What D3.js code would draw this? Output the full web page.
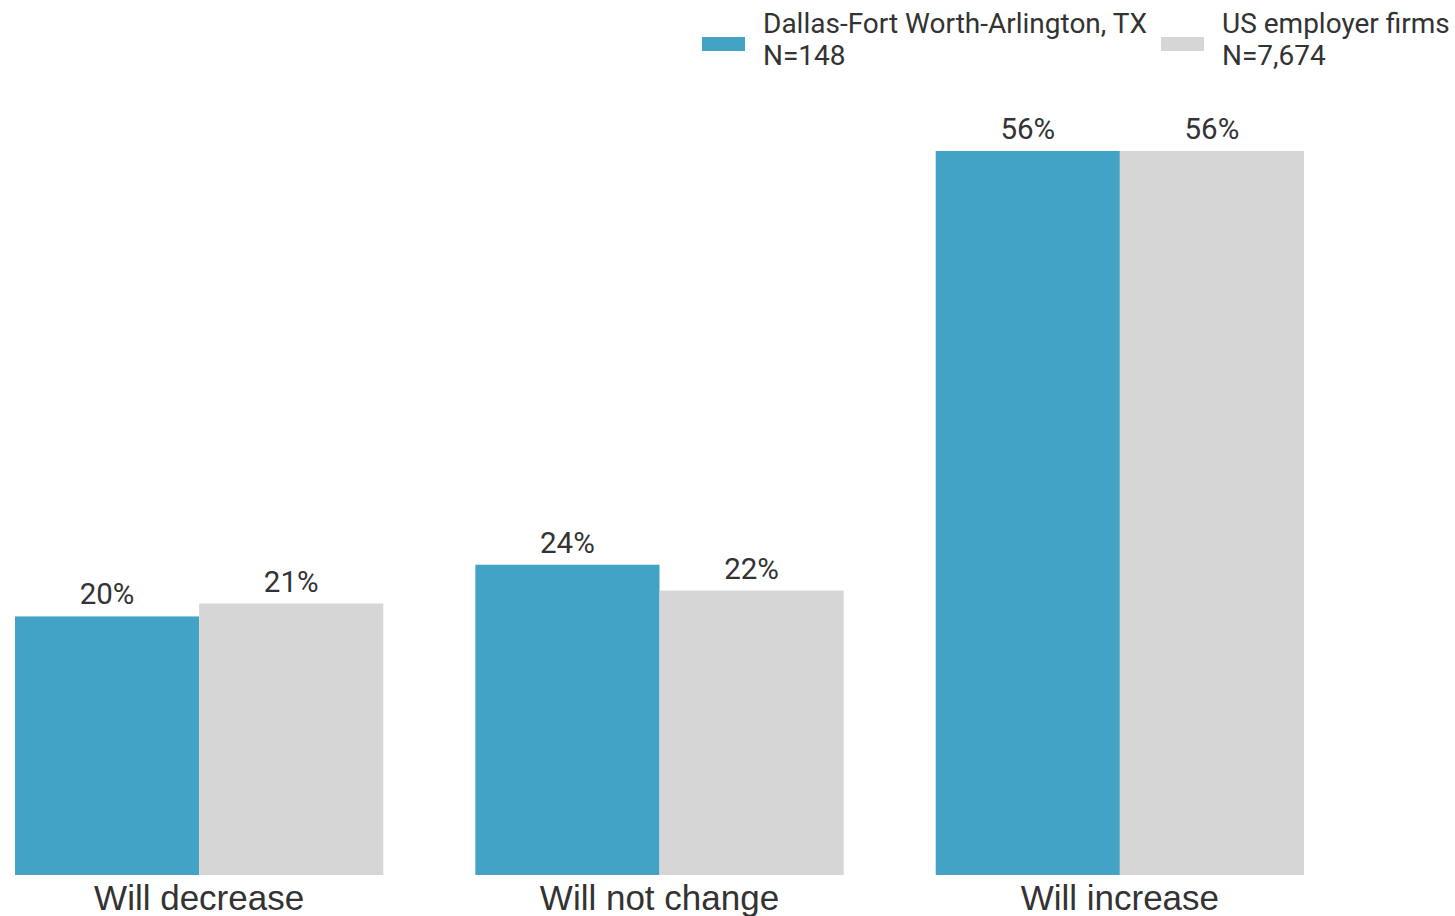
<!DOCTYPE html>
<html>
<head>
<meta charset="utf-8">
<script src="https://cdn.jsdelivr.net/npm/d3@7"></script>
<style>
  html, body { margin: 0; padding: 0; background: #fff; overflow: hidden; }
</style>
</head>
<body>
<div id="chart"></div>
<script>
// data
var categories = ["Will decrease", "Will not change", "Will increase"];
var seriesNames = ["Dallas-Fort Worth-Arlington, TX", "US employer firms"];
var seriesNotes = ["N=148", "N=7,674"];
var dallasValues = [20, 24, 56];
var usValues = [21, 22, 56];
var colors = ["#42a3c7", "#d6d6d6"];

var svgwidth = 1455;
var svgheight = 916;

var svg = d3.select("#chart")
  .append("svg")
  .attr("width", svgwidth)
  .attr("height", svgheight);

var baseline = 875;

var x0 = d3.scaleBand()
  .domain(categories)
  .range([15, 1304])
  .paddingInner(0.2)
  .paddingOuter(0);

var x1 = d3.scaleBand()
  .domain([0, 1])
  .range([0, x0.bandwidth()]);

var y = d3.scaleLinear()
  .domain([0, 56])
  .range([baseline, 151]);

var rows = categories.map(function(c, i) {
  return { cat: c, vals: [dallasValues[i], usValues[i]] };
});

var groups = svg.selectAll("g.grp")
  .data(rows)
  .enter()
  .append("g")
  .attr("class", "grp")
  .attr("transform", d => `translate(${x0(d.cat)},0)`);

groups.selectAll("rect")
  .data(d => d.vals.map((v, k) => ({ k: k, v: v })))
  .enter()
  .append("rect")
  .attr("x", d => x1(d.k))
  .attr("y", d => y(d.v))
  .attr("width", x1.bandwidth())
  .attr("height", d => baseline - y(d.v))
  .attr("fill", d => colors[d.k]);

groups.selectAll("text.val")
  .data(d => d.vals.map((v, k) => ({ k: k, v: v })))
  .enter()
  .append("text")
  .attr("class", "val")
  .attr("x", d => x1(d.k) + x1.bandwidth() / 2)
  .attr("y", d => y(d.v) - 12)
  .attr("text-anchor", "middle")
  .attr("font-family", "Roboto, sans-serif")
  .attr("font-size", 29.5)
  .attr("fill", "#333")
  .text(d => d.v + "%");

// category labels
svg.selectAll("text.cat")
  .data(categories)
  .enter()
  .append("text")
  .attr("class", "cat")
  .attr("x", d => x0(d) + x0.bandwidth() / 2)
  .attr("y", 910)
  .attr("text-anchor", "middle")
  .attr("font-family", "'Liberation Sans', Arial, sans-serif")
  .attr("font-size", 35)
  .attr("fill", "#333")
  .text(d => d);

// legend
var legendX = [702, 1161];
var legend = svg.selectAll("g.leg")
  .data(seriesNames)
  .enter()
  .append("g")
  .attr("class", "leg")
  .attr("transform", (d, i) => `translate(${legendX[i]},0)`);

legend.append("rect")
  .attr("x", 0)
  .attr("y", 37)
  .attr("width", 43)
  .attr("height", 14)
  .attr("fill", (d, i) => colors[i]);

legend.append("text")
  .attr("x", 61)
  .attr("y", 33)
  .attr("font-family", "Roboto, sans-serif")
  .attr("font-size", 28)
  .attr("fill", "#333")
  .text(d => d);

legend.append("text")
  .attr("x", 61)
  .attr("y", 65)
  .attr("font-family", "Roboto, sans-serif")
  .attr("font-size", 28)
  .attr("fill", "#333")
  .text((d, i) => seriesNotes[i]);
</script>
</body>
</html>
